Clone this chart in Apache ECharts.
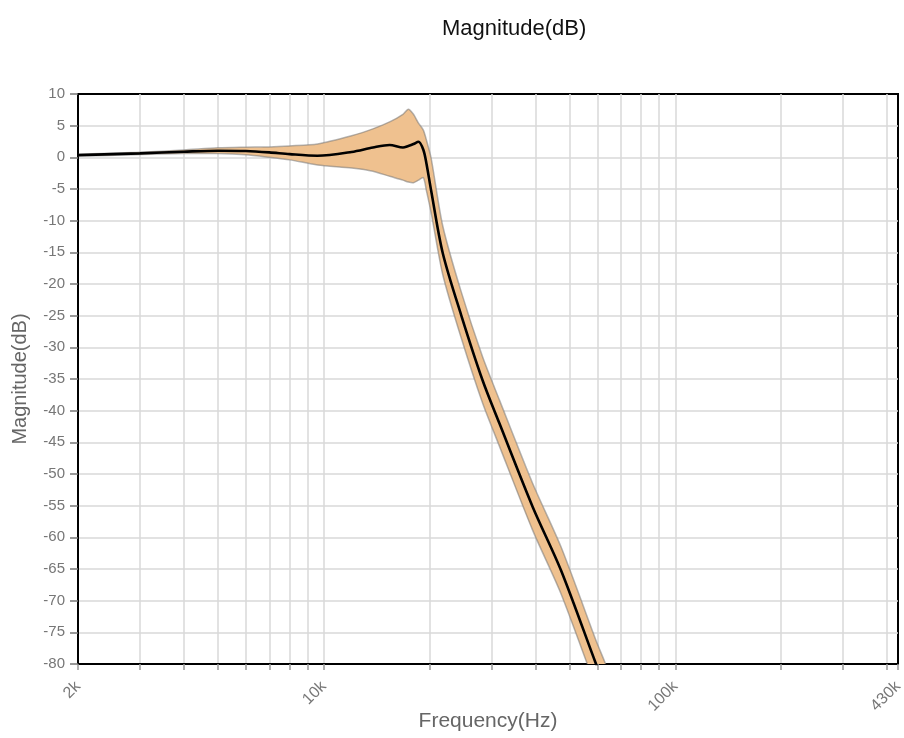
<!DOCTYPE html>
<html>
<head>
<meta charset="utf-8">
<script src="https://cdn.jsdelivr.net/npm/echarts@6/dist/echarts.min.js"></script>
<style>
html,body{margin:0;padding:0;background:#fff;}
#chart{width:904px;height:738px;}
</style>
</head>
<body>
<div id="chart"></div>
<script>
// Frequencies (Hz) of the sampled points
const freqHz = [2000, 3000, 4000, 5000, 6000, 7000, 8000, 9600, 12000, 13800, 15400, 16800, 17400, 18000, 18600, 19200, 19600, 20200, 21800, 24600, 28300, 31600, 39300, 47300, 59500, 66000];
// Centre (nominal) magnitude, dB
const magCenter = [0.35, 0.63, 0.89, 1.05, 1.0, 0.78, 0.5, 0.25, 0.85, 1.55, 1.95, 1.55, 1.8, 2.1, 2.47, 1.2, -1.0, -5.2, -15.1, -24.9, -35.2, -42.0, -55.2, -65.2, -80.0, -86.5];
// Upper edge of the spread band, dB
const magUpper = [0.45, 0.8, 1.15, 1.5, 1.6, 1.65, 1.8, 2.1, 3.4, 4.5, 5.6, 6.8, 7.6, 6.8, 5.4, 4.3, 2.7, -0.1, -10.8, -21.2, -31.5, -38.3, -51.5, -61.5, -76.3, -83.0];
// Lower edge of the spread band, dB
const magLower = [0.25, 0.45, 0.6, 0.6, 0.4, 0.0, -0.4, -1.2, -1.7, -2.2, -3.0, -3.6, -3.9, -4.0, -3.6, -3.2, -5.3, -8.7, -18.5, -28.5, -38.8, -45.6, -58.9, -68.9, -83.7, -90.0];

// Log-axis grid frequencies and labels
const gridFreqs = [2000, 3000, 4000, 5000, 6000, 7000, 8000, 9000, 10000, 20000, 30000, 40000, 50000, 60000, 70000, 80000, 90000, 100000, 200000, 300000, 400000, 430000];
const xLabelFreqs = [2000, 10000, 100000, 430000];
const xLabelTexts = ['2k', '10k', '100k', '430k'];
const yMin = -80, yMax = 10, yStep = 5;

const lg = Math.log10;
const centerData = freqHz.map((f, i) => [lg(f), magCenter[i]]);
const bandData = freqHz.map((f, i) => [lg(f), magUpper[i], magLower[i]]);

const FONT = "'Liberation Sans', Arial, sans-serif";
const chart = echarts.init(document.getElementById('chart'), null, {renderer: 'canvas'});

function renderBand(params, api) {
  if (params.dataIndex !== 0) return null;
  const pts = [];
  for (let i = 0; i < bandData.length; i++) pts.push(api.coord([bandData[i][0], bandData[i][1]]));
  for (let i = bandData.length - 1; i >= 0; i--) pts.push(api.coord([bandData[i][0], bandData[i][2]]));
  const cs = params.coordSys;
  return {
    type: 'polygon',
    shape: {points: pts, smooth: 0.25},
    clipPath: {type: 'rect', shape: {x: cs.x, y: cs.y, width: cs.width, height: cs.height}},
    style: {fill: '#EFC18F', stroke: 'rgba(120,120,120,0.55)', lineWidth: 1.5}
  };
}

chart.setOption({
  animation: false,
  backgroundColor: '#fff',
  title: {
    text: 'Magnitude(dB)',
    left: 437, top: 13,
    textStyle: {fontFamily: FONT, fontSize: 22, fontWeight: 'normal', color: '#111'}
  },
  grid: {
    left: 78, right: 6, top: 94, bottom: 74,
    outerBoundsMode: 'none', containLabel: false,
    show: true, borderColor: '#000', borderWidth: 2, backgroundColor: '#fff'
  },
  xAxis: {
    type: 'value',
    min: lg(2000), max: lg(430000),
    name: 'Frequency(Hz)',
    nameLocation: 'middle',
    nameGap: 47,
    nameMoveOverlap: false,
    nameTextStyle: {fontFamily: FONT, fontSize: 21, color: '#666'},
    axisLine: {show: true, onZero: false, lineStyle: {color: '#000', width: 2}},
    axisTick: {show: true, length: 6, lineStyle: {color: '#999', width: 1.5}, customValues: gridFreqs.map(lg)},
    axisLabel: {
      rotate: 45, margin: 20,
      fontFamily: FONT, fontSize: 16, color: '#777',
      customValues: xLabelFreqs.map(lg),
      formatter: function (v) {
        for (let i = 0; i < xLabelFreqs.length; i++) {
          if (Math.abs(lg(xLabelFreqs[i]) - v) < 1e-6) return xLabelTexts[i];
        }
        return '';
      }
    },
    splitLine: {show: true, showMinLine: false, showMaxLine: false, lineStyle: {color: '#d9d9d9', width: 1.5}}
  },
  yAxis: {
    type: 'value',
    min: yMin, max: yMax, interval: yStep,
    name: 'Magnitude(dB)',
    nameLocation: 'middle',
    nameGap: 48,
    nameMoveOverlap: false,
    nameTextStyle: {fontFamily: FONT, fontSize: 20, color: '#666'},
    axisLine: {show: true, onZero: false, lineStyle: {color: '#000', width: 2}},
    axisTick: {show: true, length: 8, lineStyle: {color: '#777', width: 1.5}},
    axisLabel: {margin: 13, fontFamily: FONT, fontSize: 15, color: '#777'},
    splitLine: {show: true, showMinLine: false, showMaxLine: false, lineStyle: {color: '#d9d9d9', width: 1.5}}
  },
  series: [
    {
      name: 'band', type: 'custom', data: bandData,
      renderItem: renderBand, z: 2, silent: true
    },
    {
      name: 'center', type: 'line', data: centerData,
      showSymbol: false, smooth: 0.3,
      lineStyle: {color: '#000', width: 2.6},
      z: 3
    }
  ]
});
</script>
</body>
</html>
